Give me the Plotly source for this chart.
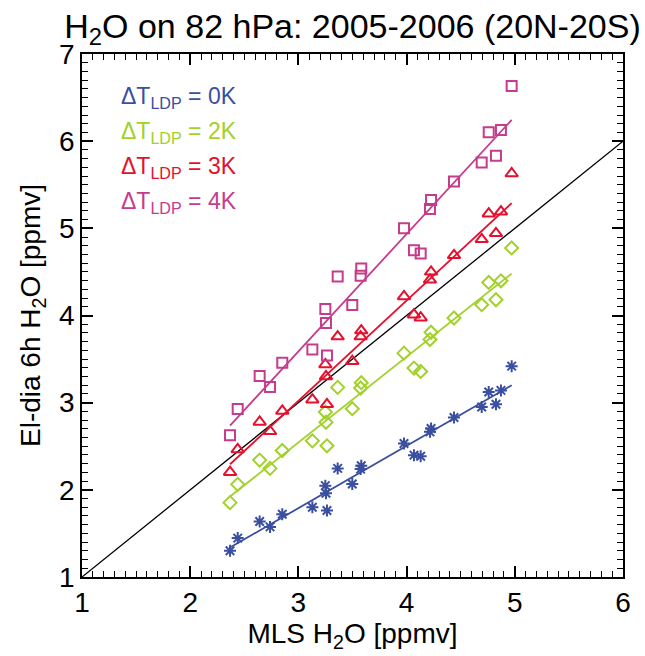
import numpy as np
import plotly.graph_objects as go

# MLS H2O (x) values, shared by all series
mls = [4.971, 4.759, 4.872, 4.694, 4.826, 4.438, 4.226, 4.216, 3.976, 4.068, 4.130,
       3.581, 3.575, 3.363, 3.498, 3.249, 3.255, 3.129, 3.264, 2.851, 2.642, 2.738,
       2.439, 2.368]

dT0 = [3.419, 3.122, 3.141, 2.951, 2.981, 2.829, 2.703, 2.665, 2.531, 2.398, 2.386,
       2.277, 2.238, 2.246, 2.066, 2.048, 1.960, 1.800, 1.762, 1.720, 1.636, 1.575,
       1.446, 1.301]
dT2 = [4.775, 4.379, 4.398, 4.124, 4.181, 3.971, 3.808, 3.724, 3.568, 3.397, 3.358,
       3.229, 3.168, 3.175, 2.931, 2.893, 2.775, 2.562, 2.505, 2.451, 2.341, 2.246,
       2.063, 1.853]
dT3 = [5.629, 5.168, 5.191, 4.874, 4.943, 4.691, 4.501, 4.409, 4.219, 4.009, 3.975,
       3.827, 3.758, 3.758, 3.476, 3.438, 3.301, 3.034, 2.981, 2.905, 2.779, 2.672,
       2.463, 2.203]
dT4 = [6.634, 6.101, 6.128, 5.754, 5.834, 5.537, 5.324, 5.221, 5.000, 4.749, 4.711,
       4.539, 4.455, 4.448, 4.120, 4.074, 3.914, 3.609, 3.541, 3.457, 3.305, 3.179,
       2.928, 2.626]

labels = ["0K", "2K", "3K", "4K"]
colors = ["#3a4fa0", "#a2d12b", "#e5102e", "#c63c8c"]
symbols = ["asterisk-open", "diamond-open", "triangle-up-open", "square-open"]
sizes = [10, 10, 11, 10]
series = [dT0, dT2, dT3, dT4]

X_RANGE = [1, 6]
Y_RANGE = [1, 7]

FONT = "Liberation Sans, Arial, Helvetica, sans-serif"

fig = go.Figure()

# 1:1 line
fig.add_trace(go.Scatter(x=X_RANGE, y=X_RANGE, mode="lines",
                         line=dict(color="black", width=1.3), showlegend=False))

x = np.array(mls)
for vals, col, sym, sz in zip(series, colors, symbols, sizes):
    y = np.array(vals)
    fig.add_trace(go.Scatter(x=x, y=y, mode="markers",
                             marker=dict(symbol=sym, size=sz, color=col,
                                         line=dict(color=col, width=2)),
                             showlegend=False))
    a, b = np.polyfit(x, y, 1)
    xs = np.array([x.min(), x.max()])
    fig.add_trace(go.Scatter(x=xs, y=a * xs + b, mode="lines",
                             line=dict(color=col, width=1.8), showlegend=False))

# invisible trace so the top/right tick axes are drawn
fig.add_trace(go.Scatter(x=X_RANGE, y=Y_RANGE, xaxis="x2", yaxis="y2", mode="markers",
                         marker=dict(opacity=0), hoverinfo="skip", showlegend=False))

# legend as coloured text
leg_y = [6.50, 6.10, 5.70, 5.30]
for lab, col, yy in zip(labels, colors, leg_y):
    fig.add_annotation(x=1.34, y=yy, xref="x", yref="y", xanchor="left", yanchor="middle",
                       text=f"ΔT<sub>LDP</sub> = {lab}", showarrow=False,
                       font=dict(family=FONT, size=23, color=col))

tick_style = dict(
    ticks="inside", ticklen=11, tickwidth=1.5, tickcolor="black",
    showgrid=False, zeroline=False, dtick=1, tick0=1,
    minor=dict(ticks="inside", ticklen=6, tickwidth=1.2, tickcolor="black", dtick=0.1),
)
main_style = dict(showline=True, linecolor="black", linewidth=1.5, mirror=True,
                  tickfont=dict(family=FONT, size=28, color="black"), **tick_style)
mirror_style = dict(showline=False, showticklabels=False, **tick_style)

fig.update_layout(
    width=645, height=656,
    margin=dict(l=82, r=22, t=54, b=77),
    paper_bgcolor="white", plot_bgcolor="white",
    title=dict(text="H<sub>2</sub>O on 82 hPa: 2005-2006 (20N-20S)", x=0.5, xref="paper",
               xanchor="center", y=0.96, yanchor="middle",
               font=dict(family=FONT, size=34, color="black")),
    font=dict(family=FONT),
    xaxis=dict(range=X_RANGE,
               title=dict(text="MLS H<sub>2</sub>O [ppmv]", standoff=6,
                          font=dict(family=FONT, size=28, color="black")),
               **main_style),
    yaxis=dict(range=Y_RANGE,
               title=dict(text="El-dia 6h H<sub>2</sub>O [ppmv]", standoff=10,
                          font=dict(family=FONT, size=28, color="black")),
               **main_style),
    xaxis2=dict(range=X_RANGE, overlaying="x", side="top", anchor="y2", **mirror_style),
    yaxis2=dict(range=Y_RANGE, overlaying="y", side="right", anchor="x2", **mirror_style),
)

fig.write_html("out.html")
